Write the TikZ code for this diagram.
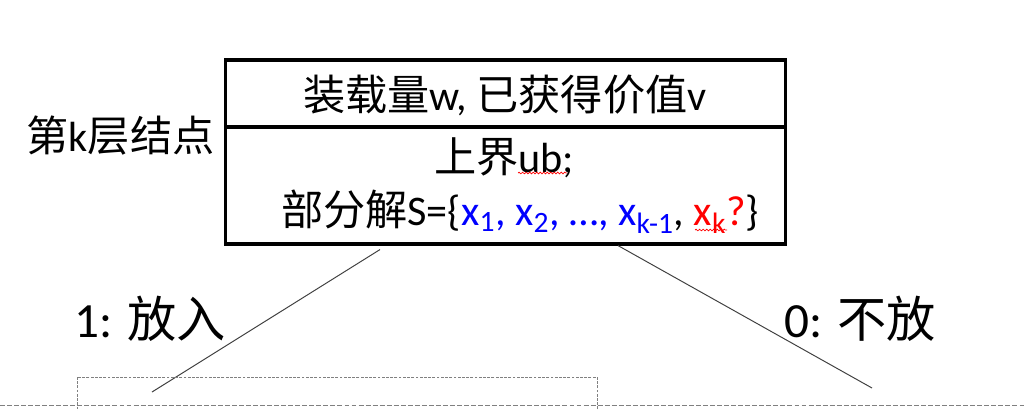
\documentclass[tikz,border=0pt]{standalone}
\usepackage{fontspec}
\usepackage{xcolor}
\setmainfont{Carlito}
\newfontfamily\cjk{Noto Sans CJK SC}
\usetikzlibrary{calc, decorations.pathmorphing}

\newcommand{\zh}[1]{{\cjk #1}}

\begin{document}
\begin{tikzpicture}[x = 0.025cm, y = -0.025cm,
						boxtext/.style = {font = \fontsize{30}{36}\selectfont, inner sep = 0pt, anchor = base},
						branchlabel/.style = {font = \fontsize{35}{42}\selectfont, inner sep = 0pt, anchor = base},
						nodepart/.style = {draw, line width = 2.2pt, minimum width = 13.975cm, inner sep = 0pt},
						branch/.style = {black!75, line width = 0.7pt},
						spellmark/.style = {red, line width = 0.5pt, decorate,
							decoration = {snake, amplitude = 0.6pt, segment length = 2.5pt}},
						]

		\useasboundingbox (0, 0) rectangle (1024, 410);

		% Node of layer k, two stacked parts
		\node[nodepart, minimum height = 1.675cm] (infoTop) at (505.5, 93.5) {};
		\node[nodepart, minimum height = 2.925cm] (infoBottom) at (505.5, 185.5) {};

		% Texts inside the node
		\node[boxtext] (loadText) at (505, 110) {\zh{装载量}w, \zh{已获得价值}v};
		\node[boxtext] (boundText) at (504, 172) {\zh{上界}ub;};
		\node[boxtext] (partialText) at (520, 225) {\zh{部分解}S=\{\textcolor{blue}{x\textsubscript{1}, x\textsubscript{2}, …, x\textsubscript{k-1}}, \textcolor{red}{x\textsubscript{k}?}\}};

		% Label on the left
		\node[boxtext] (layerLabel) at (120.5, 151) {\zh{第}k\zh{层结点}};

		% Spelling marks
		\draw[spellmark] (518, 173) -- (567, 173);
		\draw[spellmark] (695, 230) -- (727, 230);

		% Branches
		\coordinate (putEnd) at (152, 392);
		\coordinate (skipEnd) at (872, 388);
		\draw[branch] ($(infoBottom.south) + (-125.5, 4)$) -- (putEnd);
		\draw[branch] ($(infoBottom.south) + (112.5, 0)$) -- (skipEnd);

		\node[branchlabel] (putLabel) at (150, 337) {1: \zh{放入}};
		\node[branchlabel] (skipLabel) at (860, 337) {0: \zh{不放}};

		% Child node frame and page edge
		\draw[gray, line width = 0.6pt, dash pattern = on 2pt off 1pt] (77, 377) rectangle (597, 420);
		\draw[gray, line width = 0.6pt, dash pattern = on 3.5pt off 1.5pt] (0, 405) -- (1024, 405);

	\end{tikzpicture}
\end{document}
